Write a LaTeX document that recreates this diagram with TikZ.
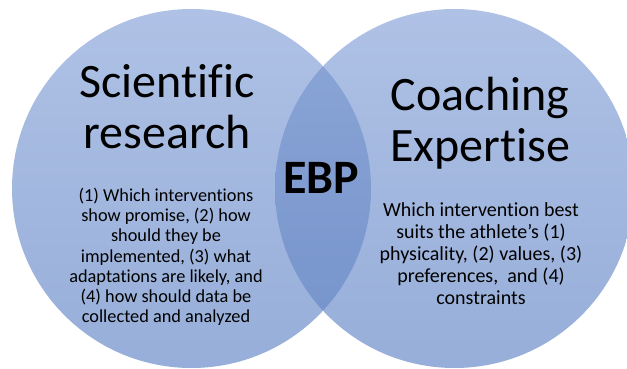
\documentclass[tikz,border=0pt]{standalone}
\usepackage{fontspec}
\setmainfont[RawFeature=-liga]{Carlito}
\definecolor{circtop}{RGB}{175,193,229}
\definecolor{circbot}{RGB}{150,174,217}
\definecolor{lenstop}{RGB}{140,166,214}
\definecolor{lensbot}{RGB}{116,146,203}
\tikzset{
  title/.style={align=center,inner sep=0pt,anchor=north,font=\fontsize{48}{51}\selectfont},
  body/.style={align=center,inner sep=0pt,anchor=north},
}
\begin{document}
\begin{tikzpicture}[x=1pt,y=-1pt]
\useasboundingbox (0,0) rectangle (627,369);
\shade[top color=circtop,bottom color=circbot] (191.5,188.5) circle[radius=179.5];
\shade[top color=circtop,bottom color=circbot] (454.5,188.5) circle[radius=179.5];
\begin{scope}
\clip (191.5,188.5) circle[radius=179.5];
\shade[top color=lenstop,bottom color=lensbot] (454.5,188.5) circle[radius=179.5];
\end{scope}
\node[title] (sci) at (167,64) {Scientific\\research};
\node[title] (coach) at (480,77) {Coaching\\Expertise};
\node[body,font=\bfseries\fontsize{48}{50}\selectfont] (ebp) at (321,162) {EBP};
\node[body,font=\fontsize{18.3}{20.2}\selectfont] (left) at (166,188) {(1) Which interventions\\show promise, (2) how\\should they be\\implemented, (3) what\\adaptations are likely, and\\(4) how should data be\\collected and analyzed};
\node[body,font=\fontsize{20}{22}\selectfont] (right) at (481,202.5) {Which intervention best\\suits the athlete’s (1)\\physicality, (2) values, (3)\\preferences,\ \ and (4)\\constraints};
\end{tikzpicture}
\end{document}
